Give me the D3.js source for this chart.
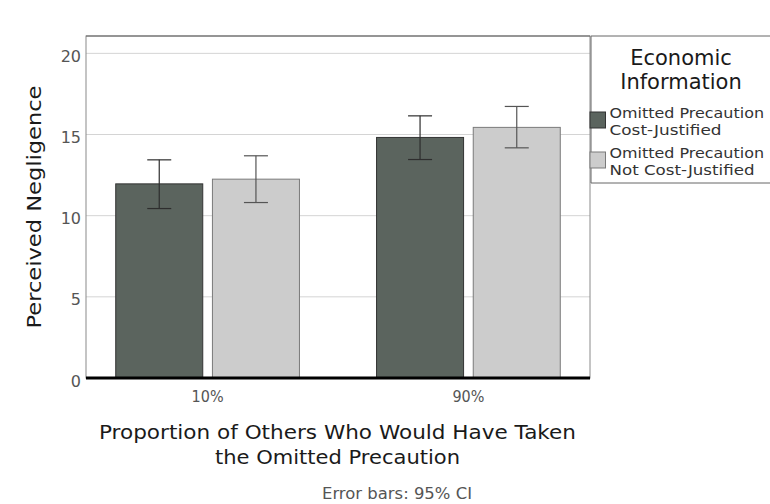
<!DOCTYPE html>
<html>
<head>
<meta charset="utf-8">
<script src="https://cdn.jsdelivr.net/npm/d3@7"></script>
<style>
  html, body { margin: 0; padding: 0; background: #fff; }
  svg { display: block; font-family: "DejaVu Sans", sans-serif; }
</style>
</head>
<body>
<svg id="chart" width="770" height="504"></svg>
<script>
// ---- data ----
const categories = ["10%", "90%"];
const seriesNames = ["Omitted Precaution Cost-Justified", "Omitted Precaution Not Cost-Justified"];
const seriesLabels = [["Omitted Precaution", "Cost-Justified"], ["Omitted Precaution", "Not Cost-Justified"]];
const meansCJ = [11.96, 14.82];
const meansNCJ = [12.25, 15.44];
const lowerCJ = [10.44, 13.46];
const upperCJ = [13.44, 16.15];
const lowerNCJ = [10.81, 14.18];
const upperNCJ = [13.69, 16.73];
const yTicks = [0, 5, 10, 15, 20];
const xTitleLines = ["Proportion of Others Who Would Have Taken", "the Omitted Precaution"];
const yTitle = "Perceived Negligence";
const legendTitleLines = ["Economic", "Information"];
const footnote = "Error bars: 95% CI";
const seriesColors = ["#5b645e", "#cccccc"];
const seriesStrokes = ["#333", "#7a7a7a"];

const rows = [];
categories.forEach((c, i) => {
  rows.push({cat: c, s: seriesNames[0], v: meansCJ[i], lo: lowerCJ[i], hi: upperCJ[i], k: 0});
  rows.push({cat: c, s: seriesNames[1], v: meansNCJ[i], lo: lowerNCJ[i], hi: upperNCJ[i], k: 1});
});

const svg = d3.select("#chart");
const L = 86, R = 590, T = 36, B = 378;

const x0 = d3.scaleBand().domain(categories).range([L, R]).paddingInner(0.2956).paddingOuter(0.114);
const x1 = d3.scaleBand().domain(seriesNames).range([0, x0.bandwidth()]).paddingInner(0.1).paddingOuter(0);
const y = d3.scaleLinear().domain([0, 21.07]).range([B, T]);

// gridlines
svg.append("g").selectAll("line").data(yTicks.filter(d => d > 0)).join("line")
  .attr("x1", L).attr("x2", R)
  .attr("y1", d => y(d)).attr("y2", d => y(d))
  .attr("stroke", "#d4d4d4").attr("stroke-width", 1);

// plot frame
svg.append("rect").attr("x", L).attr("y", T).attr("width", R - L).attr("height", B - T)
  .attr("fill", "none").attr("stroke", "#8a8a8a").attr("stroke-width", 1);

// legend frame
svg.append("path").attr("d", `M${R + 1},${T} H772 M${R + 1},${T} V183 H772`)
  .attr("fill", "none").attr("stroke", "#666").attr("stroke-width", 1);
svg.append("line").attr("x1", L).attr("x2", R).attr("y1", T).attr("y2", T)
  .attr("stroke", "#666").attr("stroke-width", 1);

// y axis
const yAxis = d3.axisLeft(y).tickValues(yTicks).tickSize(0).tickPadding(5);
const gy = svg.append("g").attr("transform", `translate(${L},0)`).call(yAxis);
gy.select(".domain").remove();
gy.selectAll("text").attr("font-size", 16).attr("fill", "#555")
  .attr("font-family", "DejaVu Sans").attr("dy", "0.5em");

// bars
svg.append("g").selectAll("rect").data(rows).join("rect")
  .attr("x", d => x0(d.cat) + x1(d.s))
  .attr("y", d => y(d.v))
  .attr("width", x1.bandwidth())
  .attr("height", d => y(0) - y(d.v))
  .attr("fill", d => seriesColors[d.k])
  .attr("stroke", d => seriesStrokes[d.k])
  .attr("stroke-width", 1);

// error bars
const eb = svg.append("g").selectAll("g").data(rows).join("g")
  .attr("transform", d => `translate(${x0(d.cat) + x1(d.s) + x1.bandwidth() / 2},0)`);
eb.append("line").attr("x1", 0).attr("x2", 0)
  .attr("y1", d => y(d.lo)).attr("y2", d => y(d.hi))
  .attr("stroke", d => d.k === 0 ? "#2e2e2e" : "#555").attr("stroke-width", 1.2);
eb.selectAll("line.cap").data(d => [d.lo, d.hi].map(v => ({v, k: d.k}))).join("line")
  .attr("class", "cap")
  .attr("x1", -12).attr("x2", 12)
  .attr("y1", d => y(d.v)).attr("y2", d => y(d.v))
  .attr("stroke", d => d.k === 0 ? "#2e2e2e" : "#555").attr("stroke-width", 1.2);

// x axis
const xAxis = d3.axisBottom(x0).tickSize(0).tickPadding(0);
const gx = svg.append("g").attr("transform", `translate(0,${B})`).call(xAxis);
gx.select(".domain").attr("stroke", "#000").attr("stroke-width", 3).attr("d", `M${L},0H${R}`);
gx.selectAll("text").attr("font-size", 15.5).attr("fill", "#555").attr("font-family", "DejaVu Sans")
  .attr("dy", null).attr("y", 23.5).attr("textLength", 32).attr("lengthAdjust", "spacingAndGlyphs");

// y axis title
svg.append("text").attr("transform", `translate(41,${(T + B) / 2}) rotate(-90)`)
  .attr("text-anchor", "middle").attr("font-size", 19).attr("fill", "#1a1a1a")
  .attr("textLength", 243).attr("lengthAdjust", "spacingAndGlyphs")
  .text(yTitle);

// x axis title
const xTitleLens = [477, 245];
const xTitleYs = [438.5, 463.5];
xTitleLines.forEach((s, i) => {
  svg.append("text").attr("x", (L + R) / 2 - 0.5).attr("y", xTitleYs[i]).attr("text-anchor", "middle")
    .attr("font-size", 20).attr("fill", "#1a1a1a")
    .attr("textLength", xTitleLens[i]).attr("lengthAdjust", "spacingAndGlyphs")
    .text(s);
});

svg.append("text").attr("x", 397).attr("y", 498.5).attr("text-anchor", "middle")
  .attr("font-size", 16.5).attr("fill", "#555")
  .attr("textLength", 150).attr("lengthAdjust", "spacingAndGlyphs").text(footnote);

// legend title
const legendTitleYs = [64.5, 88.5];
legendTitleLines.forEach((s, i) => {
  svg.append("text").attr("x", 681).attr("y", legendTitleYs[i]).attr("text-anchor", "middle")
    .attr("font-size", 21).attr("fill", "#1a1a1a").text(s);
});

// legend items
const legendLens = [[154.5, 112], [154.5, 145]];
const lg = svg.append("g").selectAll("g").data(seriesNames).join("g")
  .attr("transform", (d, i) => `translate(590,${112 + i * 40})`);
lg.append("rect").attr("x", 0).attr("y", 0).attr("width", 15.5).attr("height", 16)
  .attr("fill", (d, i) => seriesColors[i]).attr("stroke", (d, i) => seriesStrokes[i]);
lg.each(function(d, i) {
  const g = d3.select(this);
  seriesLabels[i].forEach((s, j) => {
    g.append("text").attr("x", 19.5).attr("y", 6 + j * 17.3).attr("font-size", 14.8).attr("fill", "#333")
      .attr("textLength", legendLens[i][j]).attr("lengthAdjust", "spacingAndGlyphs")
      .text(s);
  });
});
</script>
</body>
</html>
